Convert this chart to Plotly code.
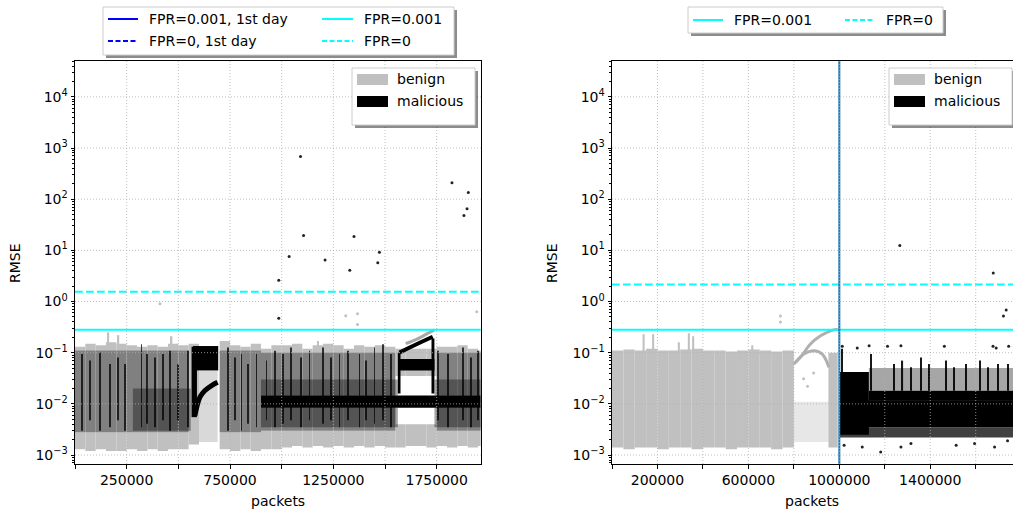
import plotly.graph_objects as go

W, H = 1013, 513

# ---------------- shared axis data ----------------
y_tick_vals = [1e-3, 1e-2, 1e-1, 1e0, 1e1, 1e2, 1e3, 1e4]
y_tick_text = ["10<sup>−3</sup>", "10<sup>−2</sup>", "10<sup>−1</sup>", "10<sup>0</sup>",
               "10<sup>1</sup>", "10<sup>2</sup>", "10<sup>3</sup>", "10<sup>4</sup>"]
y_log_range = [-3.175, 4.70]

L_x_tick_vals = [0, 250000, 500000, 750000, 1000000, 1250000, 1500000, 1750000]
L_x_tick_text = ["", "250000", "", "750000", "", "1250000", "", "1750000"]
L_x_range = [0, 1963000]

R_x_tick_vals = [0, 200000, 400000, 600000, 800000, 1000000, 1200000, 1400000, 1600000]
R_x_tick_text = ["", "200000", "", "600000", "", "1000000", "", "1400000", ""]
R_x_range = [0, 1764000]

# ---------------- thresholds ----------------
L_thr_fpr001 = 0.28
L_thr_fpr0 = 1.55
R_thr_fpr001 = 0.28
R_thr_fpr0 = 2.15
R_split_x = 1000000

# ---------------- left panel: benign (binned ranges, 50000 packets per bin) ----------------
L_bin_x = list(range(25000, 2000000, 50000))
L_bin_w = 50000
L_ben_lo = [0.0013, 0.0012, 0.0013, 0.0012, 0.0012, 0.0013, 0.0012, 0.0013, 0.0012, 0.0013,
            0.0013, 0.0016, None, None, 0.0013, 0.0012, 0.0013, 0.0012, 0.0013, 0.0013,
            0.0014, 0.0015, 0.0014, 0.0015, 0.0014, 0.0015, 0.0014, 0.0015, 0.0014, 0.0015,
            0.0014, 0.0014, 0.0015, 0.0015, 0.0014, 0.0015, 0.0014, 0.0015, 0.0014, 0.0015]
L_ben_hi = [0.13, 0.15, 0.14, 0.16, 0.15, 0.14, 0.13, 0.14, 0.13, 0.15,
            0.14, 0.15, None, None, 0.17, 0.14, 0.13, 0.15, 0.12, 0.14,
            0.14, 0.15, 0.12, 0.14, 0.15, 0.14, 0.12, 0.14, 0.13, 0.14,
            0.13, 0.12, 0.12, 0.12, 0.12, 0.13, 0.13, 0.14, 0.12, 0.11]
L_ben_gap_lo = [None] * 31 + [0.004, 0.004, 0.004, 0.004] + [None] * 5
L_ben_gap_hi = [None] * 31 + [0.035, 0.035, 0.035, 0.035] + [None] * 5
# sparse benign region under the black block  (x_start, x_end, lo, hi)
L_ben_sparse = [(600000, 690000, 0.0018, 0.045)]
L_ben_spike_x = [161000, 210000, 467000, 1175000]
L_ben_spike_top = [0.25, 0.22, 0.21, 0.17]
L_ben_curve_x = [1600000, 1650000, 1700000, 1739000]
L_ben_curve_y = [0.15, 0.18, 0.23, 0.28]
L_ben_dot_x = [411000, 1310000, 1367000, 1367000, 1944000]
L_ben_dot_y = [0.9, 0.53, 0.58, 0.355, 0.63]

# ---------------- left panel: malicious ----------------
L_mal_haze_lo = [0.0028] * 11 + [None] * 3 + [0.0028] * 4 + [0.003] * 13 + [None] * 4 + [0.003] * 5
L_mal_haze_hi = [0.11] * 11 + [None] * 3 + [0.11] * 4 + [0.10] * 13 + [None] * 4 + [0.10] * 5
L_mal_mid = [(280000, 560000, 0.003, 0.02),
             (900000, 1562000, 0.0035, 0.0084), (1739000, 1963000, 0.0035, 0.0084),
             (900000, 1562000, 0.0146, 0.03), (1739000, 1963000, 0.0146, 0.03)]
L_mal_solid = [(900000, 1963000, 0.0084, 0.0146),
               (570000, 693000, 0.045, 0.135),
               (564000, 590000, 0.0055, 0.13),
               (1565000, 1739000, 0.045, 0.075),
               (1562000, 1575000, 0.016, 0.10),
               (1725000, 1739000, 0.016, 0.19)]
L_mal_streak_x = [32000, 72500, 121000, 169000, 210000, 242000, 322000, 346600, 387000, 427000,
                  459000, 500000, 548000, 741500, 774000, 806000, 838000, 878500, 927000, 967000,
                  1005700, 1046000, 1094300, 1134600, 1199000, 1239400, 1279700, 1320000, 1376400,
                  1408700, 1449000, 1489300, 1529600, 1755300, 1803600, 1876200, 1916500, 1948700]
L_mal_streak_lo = [0.003, 0.0048, 0.003, 0.0035, 0.0048, 0.003, 0.0035, 0.0041, 0.0035, 0.0048,
                   0.003, 0.0048, 0.0035, 0.003, 0.0048, 0.003, 0.0041, 0.0035, 0.0048, 0.0035,
                   0.0041, 0.0048, 0.0035, 0.0048, 0.0041, 0.0048, 0.0035, 0.0048, 0.0035,
                   0.0048, 0.0041, 0.0048, 0.0035, 0.0048, 0.0035, 0.0048, 0.0035, 0.0048]
L_mal_streak_hi = [0.094, 0.070, 0.101, 0.060, 0.081, 0.060, 0.147, 0.094, 0.081, 0.094,
                   0.109, 0.060, 0.109, 0.127, 0.081, 0.094, 0.060, 0.094, 0.070, 0.109,
                   0.094, 0.127, 0.081, 0.109, 0.127, 0.081, 0.094, 0.109, 0.094,
                   0.070, 0.127, 0.147, 0.094, 0.109, 0.094, 0.127, 0.081, 0.109]
L_mal_curve1_x = [580000, 604500, 628700, 661000, 690000]
L_mal_curve1_y = [0.0059, 0.0135, 0.0182, 0.0228, 0.0264]
L_mal_curve2_x = [1570000, 1650000, 1731000]
L_mal_curve2_y = [0.101, 0.145, 0.205]
L_mal_dot_x = [1091000, 1105800, 1036000, 986000, 986000, 1210000, 1350000, 1329600,
               1473000, 1465000, 1824000, 1903000, 1897000, 1882000]
L_mal_dot_y = [680, 19.5, 7.6, 2.6, 0.47, 6.5, 18.6, 4.1, 9.2, 5.7, 209, 135, 65, 48]

# ---------------- right panel: benign ----------------
R_bin_x = list(range(25000, 800000, 50000))
R_bin_w = 50000
R_ben_lo = [0.0014, 0.0013, 0.0014, 0.0014, 0.0013, 0.0014, 0.0014, 0.0013,
            0.0014, 0.0014, 0.0013, 0.0014, 0.0014, 0.0014, 0.0013, 0.0014]
R_ben_hi = [0.11, 0.115, 0.11, 0.12, 0.11, 0.11, 0.115, 0.12,
            0.11, 0.11, 0.105, 0.11, 0.115, 0.11, 0.105, 0.11]
R_ben_solid = [(952000, 993000, 0.0014, 0.10)]
R_ben_sparse = [(800000, 952000, 0.0018, 0.011)]
R_ben_spike_x = [139000, 181000, 294000, 338000, 357000, 617000]
R_ben_spike_top = [0.23, 0.23, 0.16, 0.24, 0.21, 0.14]
R_ben_curveA_x = [799600, 829100, 873000, 917400, 961600, 993800]
R_ben_curveA_y = [0.060, 0.081, 0.148, 0.214, 0.268, 0.289]
R_ben_curveB_x = [807000, 843700, 887900, 925000, 954100]
R_ben_curveB_y = [0.065, 0.094, 0.109, 0.094, 0.052]
R_ben_dot_x = [741000, 741000, 843000, 887000, 860000]
R_ben_dot_y = [0.52, 0.40, 0.031, 0.040, 0.022]

# ---------------- right panel: malicious ----------------
R_mal_solid = [(1000000, 1764000, 0.0035, 0.0118),
               (1000000, 1130000, 0.0025, 0.042),
               (1130000, 1764000, 0.0115, 0.018)]
R_mal_haze = [(1130000, 1764000, 0.018, 0.05, 0.35),
              (1000000, 1764000, 0.0022, 0.0035, 0.75)]
R_mal_streak_x = [1013000, 1138000, 1241000, 1278000, 1315000, 1359000, 1396000, 1469000,
                  1506000, 1558000, 1617000, 1653000, 1698000, 1742000]
R_mal_streak_lo = [0.04, 0.018, 0.018, 0.018, 0.018, 0.018, 0.018, 0.018,
                   0.018, 0.018, 0.018, 0.018, 0.018, 0.018]
R_mal_streak_hi = [0.12, 0.094, 0.060, 0.070, 0.052, 0.081, 0.060, 0.070,
                   0.052, 0.060, 0.070, 0.052, 0.060, 0.060]
R_mal_dot_x = [1013000, 1079000, 1131000, 1212000, 1271000, 1462000, 1676000, 1690000, 1745000,
               1021000, 1101000, 1182000, 1271000, 1315000, 1514000, 1595000, 1683000, 1740000,
               1266000, 1677000, 1734000, 1722000]
R_mal_dot_y = [0.133, 0.123, 0.137, 0.133, 0.137, 0.133, 0.133, 0.123, 0.133,
               0.00156, 0.00144, 0.00115, 0.00144, 0.00168, 0.00156, 0.00168, 0.00144, 0.0019,
               12.5, 3.6, 0.68, 0.52]

# ---------------- styles ----------------
BENIGN = "#c0c0c0"
MALICIOUS = "#000000"
CYAN = "#00ffff"
BLUE = "#0000ff"
SPLIT = "#1f77b4"
FONT = "DejaVu Sans"

fig = go.Figure()


def add_bins(xs, lo, hi, width, color, opacity, xa, ya):
    px, py, pb = [], [], []
    for x, a, b in zip(xs, lo, hi):
        if a is None or b is None:
            continue
        px.append(x); pb.append(a); py.append(b - a)
    fig.add_trace(go.Bar(x=px, y=py, base=pb, width=width, marker=dict(color=color, line=dict(width=0)),
                         opacity=opacity, showlegend=False, hoverinfo="skip", xaxis=xa, yaxis=ya))


def add_rects(rects, color, opacity, xa, ya):
    for r in rects:
        x0, x1, lo, hi = r[:4]
        op = r[4] if len(r) > 4 else opacity
        fig.add_trace(go.Bar(x=[(x0 + x1) / 2], y=[hi - lo], base=[lo], width=[x1 - x0],
                             marker=dict(color=color, line=dict(width=0)), opacity=op,
                             showlegend=False, hoverinfo="skip", xaxis=xa, yaxis=ya))


def add_line(xs, ys, color, width, xa, ya):
    fig.add_trace(go.Scatter(x=xs, y=ys, mode="lines", line=dict(color=color, width=width, shape="spline"),
                             showlegend=False, hoverinfo="skip", xaxis=xa, yaxis=ya))


def add_dots(xs, ys, color, size, xa, ya):
    fig.add_trace(go.Scatter(x=xs, y=ys, mode="markers", marker=dict(color=color, size=size, line=dict(width=0)),
                             showlegend=False, hoverinfo="skip", xaxis=xa, yaxis=ya))


# ----- left panel traces -----
lo_a, hi_a, lo_b, hi_b = [], [], [], []
for lo, hi, glo, ghi in zip(L_ben_lo, L_ben_hi, L_ben_gap_lo, L_ben_gap_hi):
    if lo is None:
        lo_a.append(None); hi_a.append(None); lo_b.append(None); hi_b.append(None)
    elif glo is None:
        lo_a.append(lo); hi_a.append(hi); lo_b.append(None); hi_b.append(None)
    else:
        lo_a.append(lo); hi_a.append(glo); lo_b.append(ghi); hi_b.append(hi)
add_bins(L_bin_x, lo_a, hi_a, L_bin_w, BENIGN, 1.0, "x", "y")
add_bins(L_bin_x, lo_b, hi_b, L_bin_w, BENIGN, 1.0, "x", "y")
add_rects(L_ben_sparse, BENIGN, 0.6, "x", "y")
add_bins(L_ben_spike_x, [0.1] * len(L_ben_spike_x), L_ben_spike_top, 8000, BENIGN, 1.0, "x", "y")
add_bins(L_bin_x, L_mal_haze_lo, L_mal_haze_hi, L_bin_w, MALICIOUS, 0.33, "x", "y")
add_rects(L_mal_mid, MALICIOUS, 0.35, "x", "y")
add_bins(L_mal_streak_x, L_mal_streak_lo, L_mal_streak_hi, 4000, MALICIOUS, 0.75, "x", "y")
add_rects(L_mal_solid, MALICIOUS, 1.0, "x", "y")
add_line(L_mal_curve1_x, L_mal_curve1_y, MALICIOUS, 5, "x", "y")
add_line(L_mal_curve2_x, L_mal_curve2_y, MALICIOUS, 4, "x", "y")
add_line(L_ben_curve_x, L_ben_curve_y, "#a8a8a8", 3, "x", "y")
add_dots(L_ben_dot_x, L_ben_dot_y, BENIGN, 3, "x", "y")
add_dots(L_mal_dot_x, L_mal_dot_y, "#222222", 3, "x", "y")

# ----- right panel traces -----
add_bins(R_bin_x, R_ben_lo, R_ben_hi, R_bin_w, BENIGN, 1.0, "x2", "y2")
add_rects(R_ben_solid, BENIGN, 1.0, "x2", "y2")
add_rects(R_ben_sparse, BENIGN, 0.38, "x2", "y2")
add_bins(R_ben_spike_x, [0.1] * len(R_ben_spike_x), R_ben_spike_top, 9000, BENIGN, 1.0, "x2", "y2")
add_line(R_ben_curveA_x, R_ben_curveA_y, "#b0b0b0", 3, "x2", "y2")
add_line(R_ben_curveB_x, R_ben_curveB_y, "#b0b0b0", 3, "x2", "y2")
add_dots(R_ben_dot_x, R_ben_dot_y, BENIGN, 3, "x2", "y2")
add_rects(R_mal_haze, MALICIOUS, 0.4, "x2", "y2")
add_bins(R_mal_streak_x, R_mal_streak_lo, R_mal_streak_hi, 5000, MALICIOUS, 0.9, "x2", "y2")
add_rects(R_mal_solid, MALICIOUS, 1.0, "x2", "y2")
add_dots(R_mal_dot_x, R_mal_dot_y, "#222222", 3, "x2", "y2")

# ---------------- layout geometry (pixels -> paper) ----------------
def fx(px):
    return px / W


def fy(py):
    return 1 - py / H


L_dom = [fx(75), fx(480.7)]
R_dom = [fx(612), 1.0]
Y_dom = [fy(464), fy(61)]

shapes = []
annotations = []

# threshold lines and split line
for xref, yref, thr1, thr0 in [("x domain", "y", L_thr_fpr001, L_thr_fpr0),
                               ("x2 domain", "y2", R_thr_fpr001, R_thr_fpr0)]:
    shapes.append(dict(type="line", xref=xref, yref=yref, x0=0, x1=1, y0=thr1, y1=thr1,
                       line=dict(color=CYAN, width=2), layer="above"))
    shapes.append(dict(type="line", xref=xref, yref=yref, x0=0, x1=1, y0=thr0, y1=thr0,
                       line=dict(color=CYAN, width=2, dash="7.7px,3.3px"), layer="above"))
shapes.append(dict(type="line", xref="x2", yref="y2 domain", x0=R_split_x, x1=R_split_x, y0=0, y1=1,
                   line=dict(color=SPLIT, width=2), layer="above"))

# dotted grid drawn above data (as in the reference)
GRID = dict(color="#b0b0b0", width=0.8, dash="1px,2px")
for xa, ticks in [("x", L_x_tick_vals), ("x2", R_x_tick_vals)]:
    for t in ticks[1:]:
        shapes.append(dict(type="line", xref=xa, yref=xa.replace("x", "y") + " domain", x0=t, x1=t, y0=0, y1=1,
                           line=GRID, layer="above"))
    for v in y_tick_vals:
        shapes.append(dict(type="line", xref=xa + " domain", yref=xa.replace("x", "y"), x0=0, x1=1, y0=v, y1=v,
                           line=GRID, layer="above"))

# ---------------- manual legends ----------------
def legend_box(x0, y0, x1, y1):
    shapes.append(dict(type="rect", xref="paper", yref="paper", x0=fx(x0 + 3), x1=fx(x1 + 3),
                       y0=fy(y1 + 3), y1=fy(y0 + 3), fillcolor="rgba(0,0,0,0.45)", line=dict(width=0),
                       layer="above"))
    shapes.append(dict(type="rect", xref="paper", yref="paper", x0=fx(x0), x1=fx(x1),
                       y0=fy(y1), y1=fy(y0), fillcolor="white", line=dict(color="#cccccc", width=1),
                       layer="above"))


def legend_line(x0, x1, y, color, dash):
    shapes.append(dict(type="line", xref="paper", yref="paper", x0=fx(x0), x1=fx(x1), y0=fy(y), y1=fy(y),
                       line=dict(color=color, width=2, dash=dash), layer="above"))


def legend_patch(x0, x1, y0, y1, color):
    shapes.append(dict(type="rect", xref="paper", yref="paper", x0=fx(x0), x1=fx(x1), y0=fy(y1), y1=fy(y0),
                       fillcolor=color, line=dict(width=0), layer="above"))


def legend_text(x, y, text):
    annotations.append(dict(xref="paper", yref="paper", x=fx(x), y=fy(y), text=text, showarrow=False,
                            xanchor="left", yanchor="middle", font=dict(family=FONT, size=14, color="black")))


legend_box(103, 7, 454, 55)
legend_line(108, 138, 19, BLUE, "solid")
legend_text(147, 19, "FPR=0.001, 1st day")
legend_line(108, 138, 41, BLUE, "5px,2.5px")
legend_text(147, 41, "FPR=0, 1st day")
legend_line(322, 353, 19, CYAN, "solid")
legend_text(362, 19, "FPR=0.001")
legend_line(322, 353, 41, CYAN, "5px,2.5px")
legend_text(362, 41, "FPR=0")

legend_box(688, 7, 943, 33)
legend_line(693, 723, 20, CYAN, "solid")
legend_text(732, 20, "FPR=0.001")
legend_line(845, 873, 20, CYAN, "5px,2.5px")
legend_text(884, 20, "FPR=0")

for bx0, bx1, patch0, txt in [(352, 475, 357, 395), (889, 1012, 894, 932)]:
    legend_box(bx0, 68, bx1, 125)
    legend_patch(patch0, patch0 + 31, 74, 85, BENIGN)
    legend_text(txt, 79, "benign")
    legend_patch(patch0, patch0 + 31, 96, 107, MALICIOUS)
    legend_text(txt, 101, "malicious")

# axis titles
for xc, yc in [(15, 263), (552, 263)]:
    annotations.append(dict(xref="paper", yref="paper", x=fx(xc), y=fy(yc), text="RMSE", textangle=-90,
                            showarrow=False, xanchor="center", yanchor="middle",
                            font=dict(family=FONT, size=14, color="black")))
for xc in [278, 812]:
    annotations.append(dict(xref="paper", yref="paper", x=fx(xc), y=fy(501), text="packets",
                            showarrow=False, xanchor="center", yanchor="middle",
                            font=dict(family=FONT, size=14, color="black")))

minor_vals = [k * 10.0 ** n for n in range(-4, 5) for k in range(2, 10)]

axis_font = dict(family=FONT, size=14, color="black")
common_x = dict(showgrid=False, zeroline=False, showline=True, linecolor="black", linewidth=1,
                ticks="outside", ticklen=3.5, tickwidth=1, tickcolor="black", tickmode="array",
                tickfont=axis_font)
common_y = dict(type="log", range=y_log_range, domain=Y_dom, showgrid=False, zeroline=False,
                showline=True, linecolor="black", linewidth=1, ticks="outside", ticklen=3.5,
                tickwidth=1, tickcolor="black", tickmode="array", tickvals=y_tick_vals,
                ticktext=y_tick_text, tickfont=axis_font,
                minor=dict(tickmode="array", tickvals=minor_vals, ticks="outside", ticklen=2,
                           tickwidth=0.8, tickcolor="black", showgrid=False))

fig.update_layout(
    width=W, height=H, margin=dict(l=0, r=0, t=0, b=0),
    paper_bgcolor="white", plot_bgcolor="white", barmode="overlay", showlegend=False,
    font=dict(family=FONT, size=14, color="black"),
    xaxis=dict(common_x, domain=L_dom, range=L_x_range, tickvals=L_x_tick_vals, ticktext=L_x_tick_text,
               anchor="y", mirror=True),
    yaxis=dict(common_y, anchor="x", mirror=True),
    xaxis2=dict(common_x, domain=R_dom, range=R_x_range, tickvals=R_x_tick_vals, ticktext=R_x_tick_text,
                anchor="y2", mirror=True),
    yaxis2=dict(common_y, anchor="x2", mirror=False),
    shapes=shapes, annotations=annotations,
)

fig.write_html("out.html", config={"displayModeBar": False},
               post_script="document.body.style.margin='0';document.body.style.overflow='hidden';")
